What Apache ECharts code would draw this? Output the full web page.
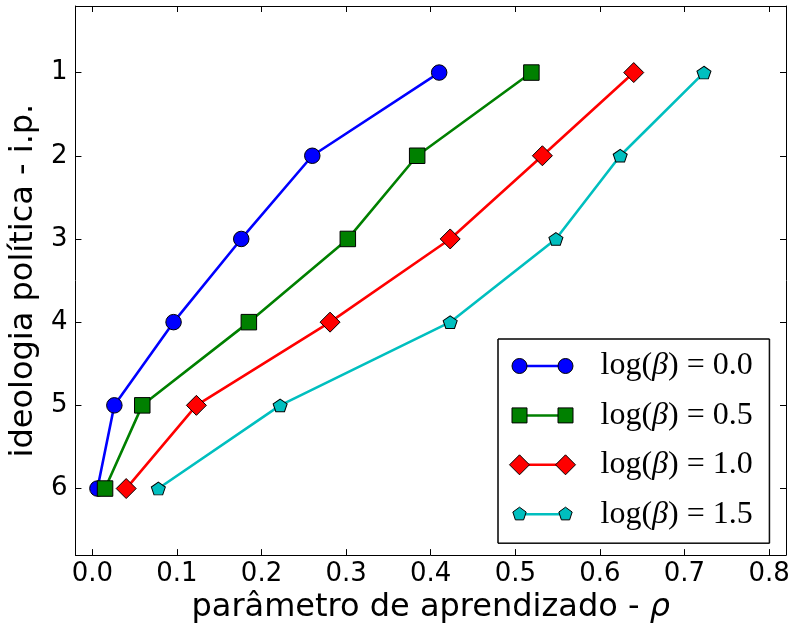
<!DOCTYPE html>
<html>
<head>
<meta charset="utf-8">
<script src="https://cdn.jsdelivr.net/npm/echarts@6/dist/echarts.min.js"></script>
<style>
html,body{margin:0;padding:0;background:#fff;}
#chart{width:796px;height:629px;}
</style>
</head>
<body>
<div id="chart"></div>
<script>
// ---- data ----
const ideologia = [1, 2, 3, 4, 5, 6];
const rhoBeta00 = [0.410, 0.260, 0.176, 0.096, 0.026, 0.006];
const rhoBeta05 = [0.519, 0.384, 0.302, 0.185, 0.059, 0.015];
const rhoBeta10 = [0.640, 0.532, 0.423, 0.281, 0.123, 0.040];
const rhoBeta15 = [0.723, 0.624, 0.548, 0.423, 0.222, 0.078];
const seriesNames = ['log(β)=0.0', 'log(β)=0.5', 'log(β)=1.0', 'log(β)=1.5'];
const xTicks = [0, 0.1, 0.2, 0.3, 0.4, 0.5, 0.6, 0.7, 0.8];
const yTicks = [1, 2, 3, 4, 5, 6];

// ---- styles ----
const colors = ['#0000ff', '#008000', '#ff0000', '#00bfbf'];
const pentagon = 'path://M0,-1L0.951,-0.309L0.588,0.809L-0.588,0.809L-0.951,-0.309Z';
const symbols = ['circle', 'rect', 'diamond', pentagon];
const symbolSizes = [15.5, 15.5, 20, [14, 13.3]];

const frame = 'M0,0L0,0M66,20L66,20';
function pent(cx) {
  return 'M' + cx + ',3L' + (cx + 6.66) + ',7.84L' + (cx + 4.11) + ',15.66L' + (cx - 4.11) + ',15.66L' + (cx - 6.66) + ',7.84Z';
}
const legendMarkerIcons = [
  'path://' + frame + 'M2.5,10A7.5,7.5 0 1 1 17.5,10A7.5,7.5 0 1 1 2.5,10Z M48.5,10A7.5,7.5 0 1 1 63.5,10A7.5,7.5 0 1 1 48.5,10Z',
  'path://' + frame + 'M2.5,2.5H17.5V17.5H2.5Z M48.5,2.5H63.5V17.5H48.5Z',
  'path://' + frame + 'M0,10L10,0L20,10L10,20Z M46,10L56,0L66,10L56,20Z',
  'path://' + frame + pent(10) + pent(56)
];
const legendLineIcon = 'path://' + frame + 'M10,8.75H56V11.25H10Z';

const rhoData = [rhoBeta00, rhoBeta05, rhoBeta10, rhoBeta15];

const series = rhoData.map((xs, i) => ({
  name: seriesNames[i],
  type: 'line',
  data: xs.map((x, j) => [x, ideologia[j]]),
  color: colors[i],
  symbol: symbols[i],
  symbolSize: symbolSizes[i],
  symbolKeepAspect: true,
  showAllSymbol: true,
  lineStyle: { width: 2.6, color: colors[i] },
  itemStyle: { color: colors[i], borderColor: '#000', borderWidth: 1, opacity: 1 },
  emphasis: { disabled: true },
  animation: false,
  z: 2 + i * 0.01
}));

function legendFmt(name) {
  const v = name.split('=')[1];
  return '{p|}{a|log(}{b|β}{a|)\u2005=\u2005' + v + '}';
}
function richFor(color) {
  return {
    p: { width: 20, color: color },
    a: { fontFamily: 'Liberation Serif', fontSize: 32, color: color, lineHeight: 30 },
    b: { fontFamily: 'Liberation Serif', fontSize: 32, fontStyle: 'italic', color: color, lineHeight: 30 }
  };
}
const legendBase = {
  orient: 'vertical',
  left: 498,
  top: 339,
  itemWidth: 66,
  itemHeight: 20,
  itemGap: 17.4,
  padding: [11, 17, 13, 11],
  borderColor: '#000',
  borderWidth: 1,
  borderRadius: 0,
  selectedMode: false,
  formatter: legendFmt,
  symbolKeepAspect: true
};

const axisLineStyle = { color: '#000', width: 1 };
const tickLabelFont = { fontFamily: 'DejaVu Sans', fontSize: 26, color: '#000' };

const option = {
  animation: false,
  backgroundColor: '#fff',
  grid: { left: 73, right: 10, top: 6, bottom: 71, containLabel: false },
  xAxis: [
    {
      type: 'value', position: 'bottom', min: -0.02, max: 0.82,
      axisLine: { show: true, onZero: false, lineStyle: axisLineStyle },
      axisTick: { show: true, inside: true, length: 6, customValues: xTicks, lineStyle: axisLineStyle },
      axisLabel: { show: true, customValues: xTicks, margin: 6, formatter: v => v.toFixed(1), ...tickLabelFont },
      splitLine: { show: false },
      name: 'parâmetro de aprendizado - {i|ρ}',
      nameLocation: 'middle',
      nameGap: 33,
      nameTextStyle: {
        fontFamily: 'DejaVu Sans', fontSize: 32, color: '#000',
        rich: { i: { fontFamily: 'DejaVu Sans', fontStyle: 'italic', fontSize: 32, color: '#000' } }
      }
    },
    {
      type: 'value', position: 'top', min: -0.02, max: 0.82,
      axisLine: { show: true, onZero: false, lineStyle: axisLineStyle },
      axisTick: { show: true, inside: true, length: 6, customValues: xTicks, lineStyle: axisLineStyle },
      axisLabel: { show: false },
      splitLine: { show: false }
    }
  ],
  yAxis: [
    {
      type: 'value', position: 'left', inverse: true, min: 0.2, max: 6.8,
      axisLine: { show: true, onZero: false, lineStyle: axisLineStyle },
      axisTick: { show: true, inside: true, length: 6, customValues: yTicks, lineStyle: axisLineStyle },
      axisLabel: { show: true, customValues: yTicks, margin: 8, formatter: v => String(v), ...tickLabelFont },
      splitLine: { show: false },
      name: 'ideologia política - i.p.',
      nameLocation: 'middle',
      nameGap: 28,
      nameTextStyle: { fontFamily: 'DejaVu Sans', fontSize: 32, color: '#000' }
    },
    {
      type: 'value', position: 'right', inverse: true, min: 0.2, max: 6.8,
      axisLine: { show: true, onZero: false, lineStyle: axisLineStyle },
      axisTick: { show: true, inside: true, length: 6, customValues: yTicks, lineStyle: axisLineStyle },
      axisLabel: { show: false },
      splitLine: { show: false }
    }
  ],
  legend: [
    Object.assign({}, legendBase, {
      z: 4,
      backgroundColor: '#fff',
      icon: legendLineIcon,
      itemStyle: { borderWidth: 0, opacity: 1 },
      textStyle: { color: 'rgba(0,0,0,0)', rich: richFor('rgba(0,0,0,0)') },
      data: seriesNames.map(n => ({ name: n }))
    }),
    Object.assign({}, legendBase, {
      z: 5,
      backgroundColor: 'transparent',
      itemStyle: { borderColor: '#000', borderWidth: 1, opacity: 1 },
      textStyle: { color: '#000', rich: richFor('#000') },
      data: seriesNames.map((n, i) => ({ name: n, icon: legendMarkerIcons[i] }))
    })
  ],
  series: series
};

const chart = echarts.init(document.getElementById('chart'), null, { renderer: 'canvas' });
chart.setOption(option);
</script>
</body>
</html>
